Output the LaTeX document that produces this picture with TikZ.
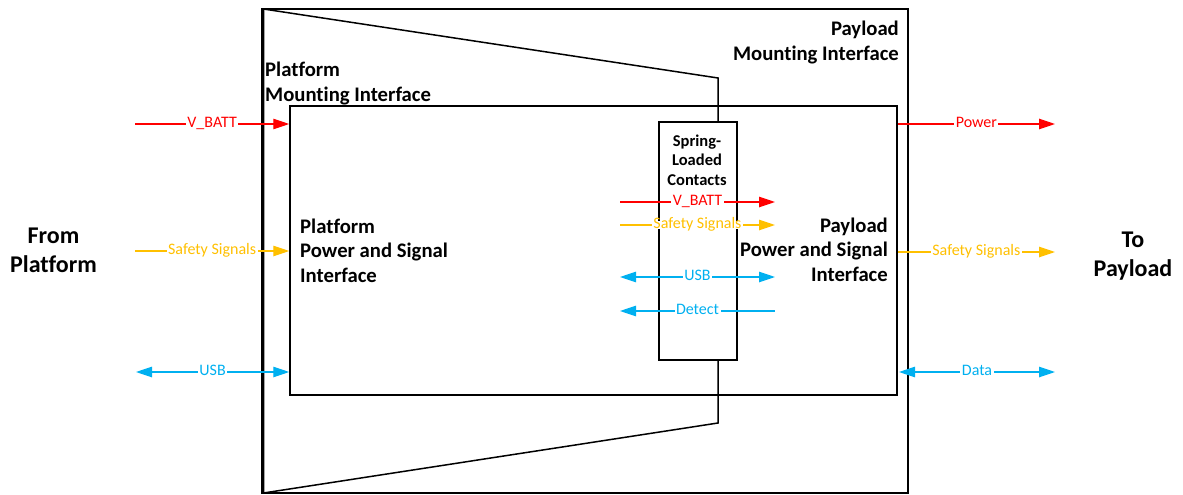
\documentclass[tikz,border=0pt]{standalone}
\usepackage{fontspec}
\setmainfont{Carlito}[Ligatures={NoCommon}]
\usetikzlibrary{arrows.meta}

\definecolor{pwrred}{HTML}{FF0000}
\definecolor{safeorange}{HTML}{FFC000}
\definecolor{datablue}{HTML}{00B0F0}

\tikzset{
  box/.style={draw=black, line width=1.5pt},
  tip/.tip={Triangle[length=16pt, width=10.5pt]},
  wire/.style={line width=1.2pt},
  pwr/.style={wire, draw=pwrred, -tip},
  safe/.style={wire, draw=safeorange, -tip},
  bus/.style={wire, draw=datablue, tip-tip},
  lbl/.style={fill=white, inner xsep=1.5pt, inner ysep=1pt,
    text height=0.64em, text depth=0pt, font=\fontsize{16}{19}\selectfont},
  ttl/.style={inner sep=0pt, font=\bfseries\fontsize{20.7}{24.5}\selectfont},
  big/.style={inner sep=0pt, font=\bfseries\fontsize{24}{29}\selectfont},
  spr/.style={inner sep=0pt, font=\bfseries\fontsize{16.5}{19.5}\selectfont},
}

\begin{document}
\begin{tikzpicture}[x=1pt, y=-1pt]
\useasboundingbox (0,0) rectangle (1183,495);

% outer payload mounting frame, inner interface box and contact block
\node[box, minimum width=646pt, minimum height=484pt] (pmi) at (585,251) {};
\node[box, minimum width=607pt, minimum height=289pt] (ppsi) at (593.5,250.5) {};
\node[box, minimum width=78pt, minimum height=238pt] (slc) at (698,241) {};

% platform mounting wedge
\coordinate (wTop) at (718,78);
\coordinate (wBot) at (718,423);
\draw[box, line join=miter] (wTop |- slc.north) -- (wTop) -- (263.5,9) -- (263.5,493) -- (wBot) -- (wBot |- slc.south);

% block titles (base anchor sits on the last line)
\node[ttl, anchor=base west, align=left] (platMount) at (265,101) {Platform\\Mounting Interface};
\node[ttl, anchor=base east, align=right] (payMount) at (899,60) {Payload\\Mounting Interface};
\node[ttl, anchor=base west, align=left] (platPsi) at (300,282) {Platform\\Power and Signal\\Interface};
\node[ttl, anchor=base east, align=right] (payPsi) at (888,281) {Payload\\Power and Signal\\Interface};
\node[big, anchor=base, align=center] (fromPlat) at (53.5,272) {From\\Platform};
\node[big, anchor=base, align=center] (toPay) at (1133,276) {To\\Payload};
\node[spr, anchor=base, align=center] (slcText) at (697,185) {Spring-\\Loaded\\Contacts};

% platform side inputs
\coordinate (inVb) at (135,124);
\coordinate (inSs) at (135,251);
\coordinate (inUsb) at (136,372);
\draw[pwr] (inVb) -- node[lbl, text=pwrred] (lVb) {V\_BATT} (ppsi.west |- inVb);
\draw[safe] (inSs) -- node[lbl, text=safeorange] (lSs) {Safety Signals} (ppsi.west |- inSs);
\draw[bus] (inUsb) -- node[lbl, text=datablue] (lUsb) {USB} (ppsi.west |- inUsb);

% through the spring-loaded contacts
\coordinate (cVb0) at (620,202);
\coordinate (cVb1) at (775,202);
\coordinate (cSs0) at (620,225);
\coordinate (cSs1) at (775,225);
\coordinate (cUsb0) at (620,277);
\coordinate (cUsb1) at (775,277);
\coordinate (cDt0) at (620,311);
\coordinate (cDt1) at (775,311);
\draw[pwr] (cVb0) -- node[lbl, text=pwrred] (lcVb) {V\_BATT} (cVb1);
\draw[safe] (cSs0) -- node[lbl, text=safeorange] (lcSs) {Safety Signals} (cSs1);
\draw[bus] (cUsb0) -- node[lbl, text=datablue] (lcUsb) {USB} (cUsb1);
\draw[wire, draw=datablue, tip-] (cDt0) -- node[lbl, text=datablue] (lcDt) {Detect} (cDt1);

% payload side outputs
\coordinate (outPw) at (1055,124);
\coordinate (outSs) at (1055,252);
\coordinate (outData) at (1055,372);
\coordinate (dataL) at (899,372);
\draw[pwr] (ppsi.east |- outPw) -- node[lbl, text=pwrred] (lPw) {Power} (outPw);
\draw[safe] (ppsi.east |- outSs) -- node[lbl, text=safeorange] (lOs) {Safety Signals} (outSs);
\draw[bus] (dataL) -- node[lbl, text=datablue] (lData) {Data} (outData);
\end{tikzpicture}
\end{document}
